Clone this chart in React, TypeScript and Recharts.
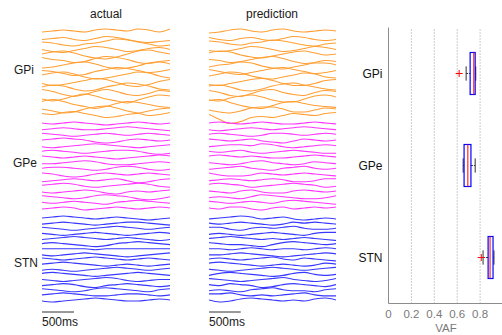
import React from 'react';
import { LineChart, Line, XAxis, YAxis, ComposedChart, Bar, ReferenceLine } from 'recharts';

// sample index along the 2 s window (500 ms = 3 samples)
const STEPS = [0, 1, 2, 3, 4, 5, 6, 7, 8, 9, 10, 11, 12];

// vertical offset of every trace inside the trace panels (px from panel top)
const GPI_BASE = [4, 9.5, 15, 20.5, 26, 31.5, 37, 42.5, 48, 53.5, 59, 64.5, 70, 75.5, 81, 86.5];
const GPE_BASE = [95, 100.7, 106.3, 112, 117.7, 123.3, 129, 134.7, 140.3, 146, 151.7, 157.3, 163, 168.7, 174.3, 180];
const STN_BASE = [190, 195.1, 200.3, 205.4, 210.5, 215.6, 220.8, 225.9, 231, 236.1, 241.3, 246.4, 251.5, 256.6, 261.8, 266.9, 272];

const GPI_ACT = [
  [0, -1, -2, -1, 0, -2, -3, -2, -1, -3, -2, 0, -3],
  [2, 1, 0, 2, 3, 1, -1, 0, 2, 4, 5, 4, 3],
  [-1, 0, 2, 3, 1, 0, -2, -4, -3, -1, 1, 3, 2],
  [1, 3, 4, 2, 0, -2, -1, 1, 3, 2, 0, -1, 1],
  [0, -2, -3, -1, 2, 4, 5, 3, 0, -3, -4, -2, 0],
  [-2, 0, 1, 3, 2, -1, -3, -2, 0, 3, 4, 2, 1],
  [3, 2, 0, -2, -3, -1, 2, 4, 3, 1, -2, -3, -1],
  [0, 1, 3, 5, 4, 1, -1, -3, -2, 0, 2, 1, -1],
  [-1, -3, -4, -2, 1, 3, 2, 0, -2, -4, -3, 0, 2],
  [2, 4, 3, 1, -1, -3, -2, 1, 4, 5, 3, 0, -2],
  [0, -2, -1, 2, 4, 3, 0, -2, -4, -3, -1, 2, 3],
  [-3, -1, 2, 4, 2, -1, -3, -1, 2, 3, 1, -2, -1],
  [1, 3, 1, -2, -4, -2, 1, 3, 5, 2, -1, -3, -2],
  [-2, -4, -2, 1, 3, 5, 3, 0, -2, -1, 1, 3, 4],
  [0, 2, 4, 3, 0, -2, -3, -1, 2, 4, 2, 0, -1],
  [-1, 0, -2, -3, -1, 1, 3, 2, 0, -1, 1, 0, -2],
];
const GPI_PRED = [
  [1, 0, -2, -3, -1, 0, -2, -3, -1, 0, -1, -2, -1],
  [0, 2, 3, 1, 0, 2, 3, 1, -1, 0, 2, 3, 2],
  [-2, -1, 1, 2, 0, -1, -3, -2, 0, 2, 3, 1, 0],
  [2, 3, 2, 0, -2, -1, 1, 3, 2, 0, -2, -1, 1],
  [-1, -3, -2, 1, 3, 4, 2, 0, -2, -3, -1, 1, 0],
  [0, 1, 3, 2, 0, -2, -3, -1, 2, 4, 3, 1, 2],
  [2, 0, -1, -3, -2, 1, 3, 4, 2, 0, -2, -2, 0],
  [-1, 1, 3, 4, 2, 0, -2, -3, -1, 1, 3, 2, 0],
  [0, -2, -4, -3, 0, 2, 3, 1, -1, -3, -2, 1, 2],
  [3, 4, 2, 0, -2, -3, -1, 2, 4, 4, 2, -1, -2],
  [-1, -2, 0, 3, 4, 2, -1, -3, -4, -2, 0, 2, 3],
  [-2, 0, 3, 4, 1, -2, -3, 0, 2, 3, 0, -2, -1],
  [2, 3, 0, -2, -3, -1, 2, 4, 4, 1, -2, -3, -1],
  [-3, -4, -1, 2, 4, 5, 2, -1, -2, 0, 2, 3, 4],
  [1, 3, 4, 2, -1, -2, -2, 0, 3, 3, 1, -1, 0],
  [0, 5, 9, 7, 3, 2, 3, 1, -1, 0, 1, -1, -2],
];

const GPE_ACT = [
  [0, 1, 0, -1, 0, 1, 2, 1, 0, -1, 0, 1, 0],
  [1, 0, -1, 0, 1, 1, 0, -1, -2, -1, 0, 1, 2],
  [-1, 0, 1, 2, 1, 0, -1, 0, 1, 0, -1, 0, 1],
  [0, -1, -2, -1, 0, 2, 3, 2, 0, -1, 0, 1, 0],
  [1, 2, 1, 0, -1, -2, -1, 0, 1, 2, 1, 0, -1],
  [0, -1, 0, 1, 2, 1, 0, -1, -1, 0, 2, 3, 2],
  [-1, 0, 1, 0, -1, 0, 1, 2, 1, 0, -1, -2, -1],
  [1, 1, 0, -1, -2, -1, 1, 2, 2, 1, 0, -1, 0],
  [0, -1, -1, 0, 1, 2, 1, -1, -2, -1, 1, 2, 1],
  [-1, 0, 2, 3, 2, 0, -1, 0, 1, 0, -1, 0, 1],
  [2, 1, 0, -1, 0, 1, 0, -1, 1, 3, 2, 0, -1],
  [0, -1, -2, -1, 1, 2, 1, 0, -1, -2, -1, 1, 2],
  [1, 2, 1, 0, -1, 0, 2, 3, 1, 0, 1, 0, -1],
  [-1, 0, 1, 2, 1, -1, -2, -1, 0, 2, 3, 2, 0],
  [0, 1, 0, -1, 0, 1, 2, 0, -1, -2, -1, 0, 1],
  [1, 0, -1, 0, 2, 1, 0, -1, 0, 1, 0, -1, 0],
];
const GPE_PRED = [
  [0, -1, 0, 1, 0, -1, 0, 1, 1, 0, -1, 0, 1],
  [1, 2, 1, 0, -1, 0, 1, 0, -1, -2, -1, 0, 1],
  [0, -1, 0, 1, 2, 1, -1, -1, 0, 1, 0, -1, 0],
  [-1, 0, 1, 0, -1, 1, 2, 3, 1, -1, 0, 1, 0],
  [1, 0, -1, -1, 0, -2, -1, 1, 2, 1, 0, -1, 0],
  [0, 1, 0, -1, 1, 2, 1, 0, -1, 0, 1, 2, 2],
  [-1, -2, -1, 0, -1, 0, 1, 1, 0, -1, -2, -1, 0],
  [0, 1, 2, 1, -1, -2, 0, 1, 2, 1, -1, 0, 1],
  [1, 0, -1, -2, 0, 1, 2, 0, -1, -2, 0, 1, 0],
  [-1, 1, 2, 2, 1, -1, 0, 1, 0, -1, 0, 1, 2],
  [1, 0, -1, 0, 1, 0, -1, 0, 2, 2, 1, -1, -1],
  [-1, -2, -1, 0, 2, 1, 0, -1, -2, -1, 0, 2, 1],
  [0, 1, 2, 0, -1, 1, 2, 2, 0, -1, 0, 1, 0],
  [1, 0, 1, 2, 0, -2, -1, 0, 1, 2, 2, 1, -1],
  [-1, 0, 1, 0, -1, 0, 1, -1, -2, -1, 0, 1, 2],
  [0, 1, -1, -1, 1, 2, 0, -1, 1, 0, -1, 0, -1],
];

const STN_ACT = [
  [0, -1, -2, -1, 0, 1, 0, -1, 0, 1, 2, 1, 0],
  [1, 0, -1, 0, 1, 2, 1, 0, -1, -1, 0, 1, 2],
  [-1, 0, 1, 2, 1, 0, -1, -2, -1, 0, 1, 0, -1],
  [0, 1, 2, 1, 0, -1, 0, 1, 2, 1, 0, -1, 0],
  [1, 0, -1, -2, -1, 0, 1, 0, -1, 0, 1, 2, 1],
  [0, -1, 0, 1, 2, 3, 2, 0, -1, -2, -1, 0, 1],
  [0, 0, 0, 0, 0, 1, 0, 0, 0, 0, 0, 0, 0],
  [1, 2, 1, 0, -1, 0, 1, 2, 3, 2, 1, 0, -1],
  [-1, 0, 1, 0, -1, -2, -1, 0, 1, 0, -1, 0, 1],
  [0, -1, -2, -1, 0, 1, 2, 1, 0, 1, 2, 1, 0],
  [1, 0, 1, 2, 1, 0, -1, -2, -1, 0, 1, 0, -1],
  [-1, -2, -1, 0, 1, 2, 1, 0, -1, -2, -1, 0, 1],
  [0, 1, 2, 1, 0, -1, -2, -1, 1, 2, 1, 0, 0],
  [1, 0, -1, 0, 2, 3, 1, 0, -1, 0, 1, 2, 1],
  [-1, 0, 1, 2, 1, -1, -2, -1, 0, 1, 2, 0, -1],
  [0, -1, -2, -1, 0, 1, 1, 0, -1, -1, 0, 1, 0],
  [1, 2, 1, 0, -1, -2, -1, 0, 1, 1, 0, -1, 0],
];
const STN_PRED = [
  [1, 0, -1, -2, -1, 1, 0, -1, 1, 2, 1, 0, 1],
  [0, 1, 0, -1, 0, 1, 2, 1, -1, 0, -1, 0, 1],
  [-1, -1, 1, 2, 0, -1, 0, -1, -2, 0, 1, 1, 0],
  [1, 0, 1, 2, 1, 0, -1, 0, 1, 2, 0, -1, -1],
  [0, -1, -2, -1, 0, 1, 0, 1, 0, -1, 0, 1, 2],
  [-1, 0, 1, 1, 2, 3, 1, -1, -2, -1, 0, 1, 0],
  [0, 0, 1, 0, -1, 0, 1, 0, 0, 1, 0, -1, 0],
  [1, 1, 0, -1, 0, 1, 2, 3, 2, 1, 0, -1, 0],
  [0, -1, 0, 1, 0, -1, -2, 0, 1, -1, 0, 1, 2],
  [-1, -2, -1, 0, 1, 2, 1, 0, 1, 2, 1, -1, 0],
  [0, 1, 2, 1, 0, -1, -2, -1, 0, 1, 0, -1, -2],
  [1, -1, -2, -1, 0, 1, 2, 1, -1, -2, 0, 1, 0],
  [-1, 0, 1, 2, 1, 0, -1, -2, 0, 1, 2, 1, -1],
  [0, 1, -1, 0, 1, 3, 2, 0, -1, 0, 1, 2, 0],
  [1, 0, 1, 2, 0, -1, -2, 0, 1, 1, 2, 0, -1],
  [-1, -1, -2, 0, 1, 0, 1, 0, -1, -2, 0, 1, 1],
  [0, 2, 1, -1, -2, -1, 0, 1, 0, 1, -1, -2, 0],
];

// box plot values (VAF)
const REGIONS = ['GPi', 'GPe', 'STN'];
const VAF_LOW = [0.678, 0.652, 0.826];
const VAF_Q1 = [0.713, 0.66, 0.87];
const VAF_MED = [0.745, 0.693, 0.887];
const VAF_Q3 = [0.757, 0.72, 0.913];
const VAF_HIGH = [0.762, 0.757, 0.921];
const VAF_OUTLIERS = [[0.617], [], [0.81]];
const VAF_TICKS = [0, 0.2, 0.4, 0.6, 0.8];

const ORANGE = '#ff9f33';
const MAGENTA = '#ff33ff';
const BLUE = '#3838ff';
const FONT = '"Liberation Sans", Arial, sans-serif';

type Group = { key: string; base: number[]; devs: number[][]; color: string };

const ACTUAL_GROUPS: Group[] = [
  { key: 'gpi', base: GPI_BASE, devs: GPI_ACT, color: ORANGE },
  { key: 'gpe', base: GPE_BASE, devs: GPE_ACT, color: MAGENTA },
  { key: 'stn', base: STN_BASE, devs: STN_ACT, color: BLUE },
];
const PRED_GROUPS: Group[] = [
  { key: 'gpi', base: GPI_BASE, devs: GPI_PRED, color: ORANGE },
  { key: 'gpe', base: GPE_BASE, devs: GPE_PRED, color: MAGENTA },
  { key: 'stn', base: STN_BASE, devs: STN_PRED, color: BLUE },
];

function buildRows(groups: Group[]) {
  return STEPS.map((s, i) => {
    const row: Record<string, number> = { s };
    groups.forEach(g => g.devs.forEach((d, k) => { row[`${g.key}${k}`] = g.base[k] + d[i]; }));
    return row;
  });
}

const TracePanel = ({ groups, width }: { groups: Group[]; width: number }) => {
  const rows = buildRows(groups);
  return (
    <LineChart width={width} height={302} data={rows} margin={{ top: 0, right: 0, bottom: 0, left: 0 }}>
      <XAxis dataKey="s" type="number" domain={[0, 12]} hide />
      <YAxis type="number" domain={[0, 302]} reversed hide />
      {groups.flatMap(g => g.devs.map((_, k) => (
        <Line
          key={`${g.key}${k}`}
          dataKey={`${g.key}${k}`}
          type="monotone"
          stroke={g.color}
          strokeWidth={1.1}
          dot={false}
          isAnimationActive={false}
        />
      )))}
      <ReferenceLine segment={[{ x: 0, y: 284 }, { x: 3, y: 284 }]} stroke="#333" strokeWidth={1} />
    </LineChart>
  );
};

const boxRows = REGIONS.map((name, i) => ({
  name,
  box: [VAF_Q1[i], VAF_Q3[i]],
  low: VAF_LOW[i],
  q1: VAF_Q1[i],
  med: VAF_MED[i],
  q3: VAF_Q3[i],
  high: VAF_HIGH[i],
  outliers: VAF_OUTLIERS[i],
}));

const BoxShape = (props: any) => {
  const { x, y, width, height, payload } = props;
  if (!payload) return null;
  const ppu = width / (payload.q3 - payload.q1);
  const px = (v: number) => x + (v - payload.q1) * ppu;
  const cy = y + height / 2;
  const cap = height * 0.17;
  return (
    <g>
      <line x1={px(payload.low)} x2={px(payload.q1)} y1={cy} y2={cy} stroke="#333" strokeDasharray="2 1" />
      <line x1={px(payload.q3)} x2={px(payload.high)} y1={cy} y2={cy} stroke="#333" strokeDasharray="2 1" />
      <line x1={px(payload.low)} x2={px(payload.low)} y1={cy - cap} y2={cy + cap} stroke="#333" />
      <line x1={px(payload.high)} x2={px(payload.high)} y1={cy - cap} y2={cy + cap} stroke="#333" />
      <rect x={px(payload.q1)} y={y} width={px(payload.q3) - px(payload.q1)} height={height} fill="none" stroke="#0000ff" strokeWidth={1.2} />
      <line x1={px(payload.med)} x2={px(payload.med)} y1={y} y2={y + height} stroke="#ff0000" />
      {payload.outliers.map((o: number, j: number) => (
        <g key={j} stroke="#ff0000">
          <line x1={px(o) - 3.5} x2={px(o) + 3.5} y1={cy} y2={cy} />
          <line x1={px(o)} x2={px(o)} y1={cy - 3.5} y2={cy + 3.5} />
        </g>
      ))}
    </g>
  );
};

const BoxPanel = () => (
  <ComposedChart layout="vertical" width={180} height={335} data={boxRows} margin={{ top: 27.5, right: 7, bottom: 1, left: 0 }}>
    {VAF_TICKS.slice(1).map(t => (
      <ReferenceLine key={t} x={t} stroke="#9a9a9a" strokeDasharray="1 2" />
    ))}
    <XAxis
      type="number"
      domain={[0, 1]}
      ticks={VAF_TICKS}
      tickLine={false}
      tickMargin={0}
      height={30.5}
      axisLine={{ stroke: '#8c8c8c' }}
      tick={{ fill: '#7a7a7a', fontSize: 11.5, fontFamily: FONT }}
    />
    <XAxis xAxisId="top" orientation="top" type="number" domain={[0, 1]} height={0} tick={false} tickLine={false} axisLine={{ stroke: '#8c8c8c' }} />
    <YAxis
      type="category"
      dataKey="name"
      width={58.5}
      tickLine={false}
      tickMargin={0}
      axisLine={{ stroke: '#8c8c8c' }}
      tick={{ fill: '#111', fontSize: 12, fontFamily: FONT }}
    />
    <Bar dataKey="box" barSize={42} shape={<BoxShape />} isAnimationActive={false} />
  </ComposedChart>
);

const textStyle = { fontFamily: FONT, fontSize: 12, fill: '#1a1a1a' };

export default function App() {
  return (
    <div style={{ position: 'absolute', left: 0, top: 0, width: 502, height: 335, overflow: 'hidden', background: '#fff' }}>
      <div style={{ position: 'absolute', left: 42, top: 28 }}>
        <TracePanel groups={ACTUAL_GROUPS} width={128} />
      </div>
      <div style={{ position: 'absolute', left: 209, top: 28 }}>
        <TracePanel groups={PRED_GROUPS} width={127} />
      </div>
      <div style={{ position: 'absolute', left: 330, top: 0 }}>
        <BoxPanel />
      </div>
      <svg width={502} height={335} style={{ position: 'absolute', left: 0, top: 0, pointerEvents: 'none' }}>
        <text x={106} y={18} textAnchor="middle" style={textStyle}>actual</text>
        <text x={272} y={18} textAnchor="middle" style={textStyle}>prediction</text>
        <text x={14} y={74} style={textStyle}>GPi</text>
        <text x={13} y={167} style={textStyle}>GPe</text>
        <text x={14} y={267} style={textStyle}>STN</text>
        <text x={42} y={326} style={textStyle}>500ms</text>
        <text x={209} y={326} style={textStyle}>500ms</text>
        <text x={446} y={332} textAnchor="middle" style={{ ...textStyle, fontSize: 11.5, fill: '#7a7a7a' }}>VAF</text>
      </svg>
    </div>
  );
}
